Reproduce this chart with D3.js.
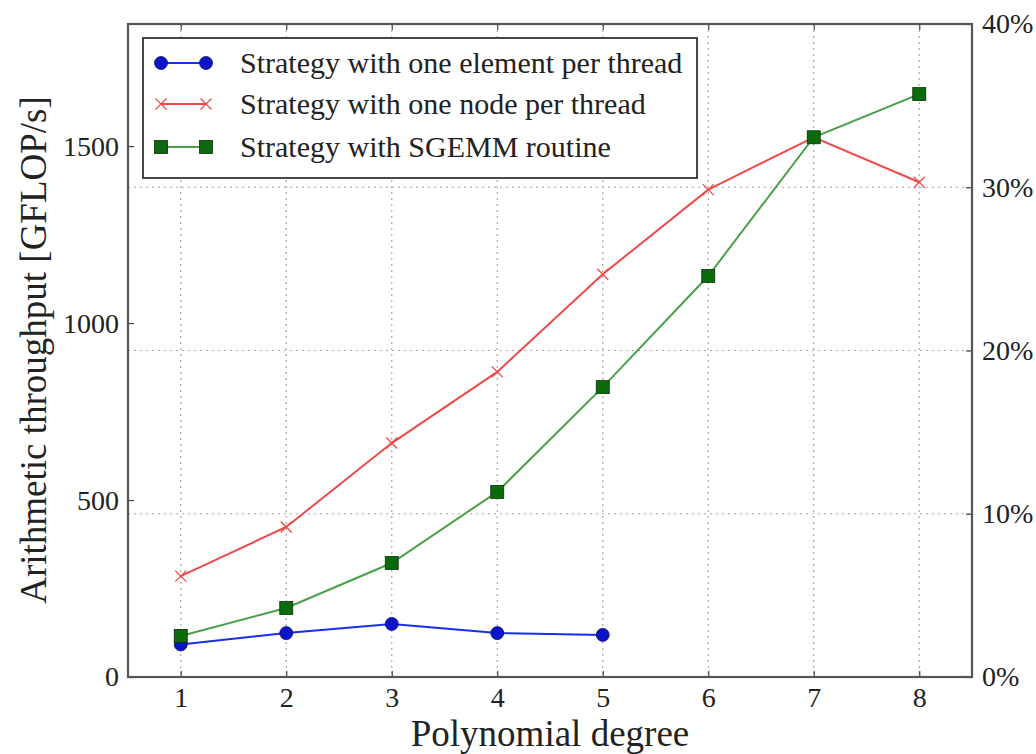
<!DOCTYPE html>
<html>
<head>
<meta charset="utf-8">
<script src="https://cdn.jsdelivr.net/npm/d3@7"></script>
<style>
  body { margin: 0; background: #fff; }
  svg { display: block; }
  text { font-family: "Liberation Serif", "Times New Roman", serif; fill: #222; }
</style>
</head>
<body>
<svg id="chart" width="1036" height="754"></svg>
<script>
// ---- data ----
const degrees = [1, 2, 3, 4, 5, 6, 7, 8];
const elementPerThread = [92, 124, 150, 124, 119];          // degrees 1..5
const nodePerThread = [285, 424, 661, 862, 1138, 1377, 1525, 1398];
const sgemmRoutine = [116, 195, 322, 523, 819, 1133, 1525, 1647];
const leftTicks = [0, 500, 1000, 1500];
const rightTicks = [0, 10, 20, 30, 40];
const seriesNames = [
  "Strategy with one element per thread",
  "Strategy with one node per thread",
  "Strategy with SGEMM routine"
];
const leftMax = 1845;   // throughput that corresponds to 40 %
const rightMax = 40;

// ---- layout ----
const svg = d3.select("#chart");
const m = { left: 128, right: 972, top: 24, bottom: 677 };

const x = d3.scaleLinear().domain([0.5, 8.5]).range([m.left, m.right]);
const yL = d3.scaleLinear().domain([0, leftMax]).range([m.bottom, m.top]);
const yR = d3.scaleLinear().domain([0, rightMax]).range([m.bottom, m.top]);

// grid
const grid = svg.append("g").attr("stroke", "#a8a8a8").attr("stroke-width", 1.2)
  .attr("stroke-dasharray", "2,4");
grid.selectAll("line.v").data(degrees).join("line")
  .attr("x1", d => x(d)).attr("x2", d => x(d))
  .attr("y1", m.top).attr("y2", m.bottom);
grid.selectAll("line.h").data(rightTicks.filter(d => d > 0 && d < rightMax)).join("line")
  .attr("x1", m.left).attr("x2", m.right)
  .attr("y1", d => yR(d)).attr("y2", d => yR(d));

// axes
function styleAxis(g) {
  g.select(".domain").remove();
  g.selectAll(".tick line").attr("stroke", "#444").attr("stroke-width", 1.2);
  g.selectAll(".tick text").attr("font-size", 28).attr("fill", "#222")
    .attr("font-family", "Liberation Serif, serif");
}
svg.append("g").attr("transform", `translate(0,${m.bottom})`)
  .call(d3.axisBottom(x).tickValues(degrees).tickFormat(d3.format("d")).tickSize(-6).tickPadding(10))
  .call(styleAxis);
svg.append("g").attr("transform", `translate(0,${m.top})`)
  .call(d3.axisTop(x).tickValues(degrees).tickFormat("").tickSize(-6))
  .call(styleAxis);
svg.append("g").attr("transform", `translate(${m.left},0)`)
  .call(d3.axisLeft(yL).tickValues(leftTicks).tickFormat(d3.format("d")).tickSize(-6).tickPadding(9))
  .call(styleAxis);
svg.append("g").attr("transform", `translate(${m.right},0)`)
  .call(d3.axisRight(yR).tickValues(rightTicks).tickFormat(d => d + "%").tickSize(-6).tickPadding(10))
  .call(styleAxis);

// frame
svg.append("rect").attr("x", m.left).attr("y", m.top)
  .attr("width", m.right - m.left).attr("height", m.bottom - m.top)
  .attr("fill", "none").attr("stroke", "#555").attr("stroke-width", 2.2);

// series
const line = d3.line().x(d => x(d[0])).y(d => yL(d[1]));
const blueData = elementPerThread.map((v, i) => [degrees[i], v]);
const redData = nodePerThread.map((v, i) => [degrees[i], v]);
const greenData = sgemmRoutine.map((v, i) => [degrees[i], v]);

const cfg = [
  { data: blueData, line: "#1a2cf0", marker: "circle", fill: "#0a14c8", name: seriesNames[0] },
  { data: redData, line: "#ee4a4a", marker: "x", fill: "#ee4a4a", name: seriesNames[1] },
  { data: greenData, line: "#4aa04a", marker: "square", fill: "#0b6a0b", name: seriesNames[2] }
];

function drawMarker(g, type, cx, cy, fill) {
  if (type === "circle") {
    g.append("circle").attr("cx", cx).attr("cy", cy).attr("r", 6.5)
      .attr("fill", fill).attr("stroke", "#101060").attr("stroke-width", 0.8);
  } else if (type === "square") {
    g.append("rect").attr("x", cx - 6.5).attr("y", cy - 6.5).attr("width", 13).attr("height", 13)
      .attr("fill", fill).attr("stroke", "#0a300a").attr("stroke-width", 0.8);
  } else {
    const s = 5.5;
    g.append("path").attr("d", `M${cx - s},${cy - s}L${cx + s},${cy + s}M${cx - s},${cy + s}L${cx + s},${cy - s}`)
      .attr("stroke", fill).attr("stroke-width", 1.3).attr("fill", "none");
  }
}

cfg.forEach(c => {
  const g = svg.append("g");
  g.append("path").datum(c.data).attr("d", line)
    .attr("fill", "none").attr("stroke", c.line).attr("stroke-width", 2);
  c.data.forEach(d => drawMarker(g, c.marker, x(d[0]), yL(d[1]), c.fill));
});

// legend
const lg = svg.append("g");
lg.append("rect").attr("x", 143).attr("y", 38).attr("width", 554).attr("height", 140)
  .attr("fill", "#fff").attr("stroke", "#333").attr("stroke-width", 1.8);
const rowY = [63, 104, 147];
cfg.forEach((c, i) => {
  const yy = rowY[i];
  lg.append("line").attr("x1", 161).attr("x2", 206).attr("y1", yy).attr("y2", yy)
    .attr("stroke", c.line).attr("stroke-width", 2);
  drawMarker(lg, c.marker, 161, yy, c.fill);
  drawMarker(lg, c.marker, 206, yy, c.fill);
  lg.append("text").attr("x", 240).attr("y", yy).attr("dy", "0.33em")
    .attr("font-size", 30).attr("fill", "#222").text(c.name);
});

// axis titles
svg.append("text").attr("x", 550).attr("y", 746).attr("text-anchor", "middle")
  .attr("font-size", 37).text("Polynomial degree");
svg.append("text").attr("transform", "translate(46,350) rotate(-90)")
  .attr("text-anchor", "middle").attr("font-size", 37)
  .text("Arithmetic throughput [GFLOP/s]");
</script>
</body>
</html>
